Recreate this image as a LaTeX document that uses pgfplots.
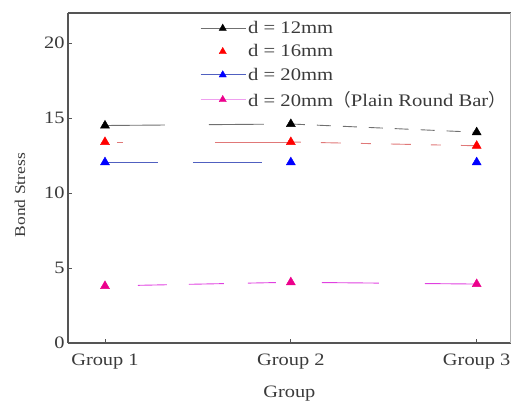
\documentclass[border=0pt]{standalone}
\usepackage{pgfplots}
\pgfplotsset{compat=1.18}
\usepackage{fontspec}
\setmainfont{Liberation Serif}[FakeStretch=1.17]
\newfontfamily\cjk{Noto Sans CJK SC}
\definecolor{framec}{HTML}{555555}
\definecolor{txtc}{HTML}{3a3a3a}
\definecolor{blkline}{HTML}{707070}
\definecolor{redline}{HTML}{E07878}
\definecolor{blueline}{HTML}{5060C0}
\definecolor{magline}{HTML}{E040E0}
\begin{document}
\begin{tikzpicture}
\begin{axis}[
  scale only axis, width=442.7bp, height=330bp,
  xmin=-0.199, xmax=2.183, ymin=0, ymax=22,
  xtick={0,1,2}, xticklabels={Group 1, Group 2, Group 3},
  ytick={0,5,10,15,20}, yticklabels={0,5,10,15,20},
  axis lines*=left,
  axis line style={framec, line width=1.6pt},
  tick style={framec, line width=0.8pt},
  major tick length=4pt, tick align=inside,
  clip=false,
  ticklabel style={font=\fontsize{17.5}{20}\selectfont, text=txtc},
  xticklabel style={anchor=base, yshift=-22bp},
  xlabel={Group}, ylabel={Bond Stress},
  every axis x label/.style={at={(rel axis cs:0.5,0)}, anchor=base, yshift=-54bp,
    font=\fontsize{17.5}{20}\selectfont, text=txtc},
  every axis y label/.style={at={(rel axis cs:0,0.448)}, xshift=-48bp, rotate=90, anchor=center,
    font=\fontsize{15}{18}\selectfont, text=txtc},
  legend style={draw=none, fill=none, at={(rel axis cs:0.2984,0.981)}, anchor=north west,
    font=\fontsize{17.7}{20}\selectfont, text=txtc, row sep=5.6pt, inner sep=0pt},
  legend cell align=left,
]
\draw[framec, line width=1.6pt] (rel axis cs:0,1) -- (rel axis cs:1,1);
\draw[gray!60, line width=0.8pt] (rel axis cs:1,0) -- (rel axis cs:1,1);
\coordinate (ll) at (rel axis cs:0,0);
\coordinate (ur) at (rel axis cs:1,1);
% line segments
\addplot[forget plot, blkline, line width=0.9pt, dash pattern=on 60bp off 44bp on 55bp off 27bp] coordinates {(0,14.5) (1,14.6)};
\addplot[forget plot, blkline, line width=0.9pt, dash pattern=on 14bp off 12bp] coordinates {(1,14.6) (2,14.05)};
\addplot[forget plot, redline, line width=0.9pt, dash pattern=on 0bp off 12bp on 6bp off 92bp on 76bp] coordinates {(0,13.4) (1,13.4)};
\addplot[forget plot, redline, line width=0.9pt, dash pattern=on 10bp off 20bp on 20bp off 20bp] coordinates {(1,13.4) (2,13.15)};
\addplot[forget plot, blueline, line width=0.9pt, dash pattern=on 53bp off 35bp on 69bp off 40bp] coordinates {(0,12.05) (1,12.05)};
\addplot[forget plot, magline, line width=0.9pt, dash pattern=on 0bp off 33bp on 29bp off 22bp on 35bp off 24bp on 28bp off 40bp] coordinates {(0,3.8) (1,4.05)};
\addplot[forget plot, magline, line width=0.9pt, dash pattern=on 0bp off 31bp on 57bp off 46bp on 60bp] coordinates {(1,4.05) (2,3.93)};
% markers
\addplot[only marks, mark=triangle*, mark size=5.2pt, black,
  legend image code/.code={\draw[blkline, line width=0.9pt] (0bp,0bp) -- (45bp,0bp);
    \draw[only marks, mark=triangle*, mark size=4.2pt, black] plot coordinates {(22bp,0bp)};}]
  coordinates {(0,14.5) (1,14.6) (2,14.05)};
\addlegendentry{d = 12mm}
\addplot[only marks, mark=triangle*, mark size=5.2pt, red,
  legend image code/.code={\draw[only marks, mark=triangle*, mark size=4.2pt, red] plot coordinates {(22bp,0bp)};}]
  coordinates {(0,13.4) (1,13.4) (2,13.15)};
\addlegendentry{d = 16mm}
\addplot[only marks, mark=triangle*, mark size=5.2pt, blue,
  legend image code/.code={\draw[blueline, line width=0.9pt] (0bp,0bp) -- (45bp,0bp);
    \draw[only marks, mark=triangle*, mark size=4.2pt, blue] plot coordinates {(22bp,0bp)};}]
  coordinates {(0,12.05) (1,12.05) (2,12.05)};
\addlegendentry{d = 20mm}
\addplot[only marks, mark=triangle*, mark size=5.2pt, magenta,
  legend image code/.code={\draw[magline!50, line width=0.9pt] (0bp,0bp) -- (45bp,0bp);
    \draw[only marks, mark=triangle*, mark size=4.2pt, magenta] plot coordinates {(22bp,0bp)};}]
  coordinates {(0,3.8) (1,4.05) (2,3.93)};
\addlegendentry{d = 20mm{\cjk （}Plain Round Bar{\cjk ）}}
\end{axis}
\pgfresetboundingbox
\path ([shift={(-68bp,-59bp)}]ll) rectangle ([shift={(2.3bp,13bp)}]ur);
\end{tikzpicture}
\end{document}
